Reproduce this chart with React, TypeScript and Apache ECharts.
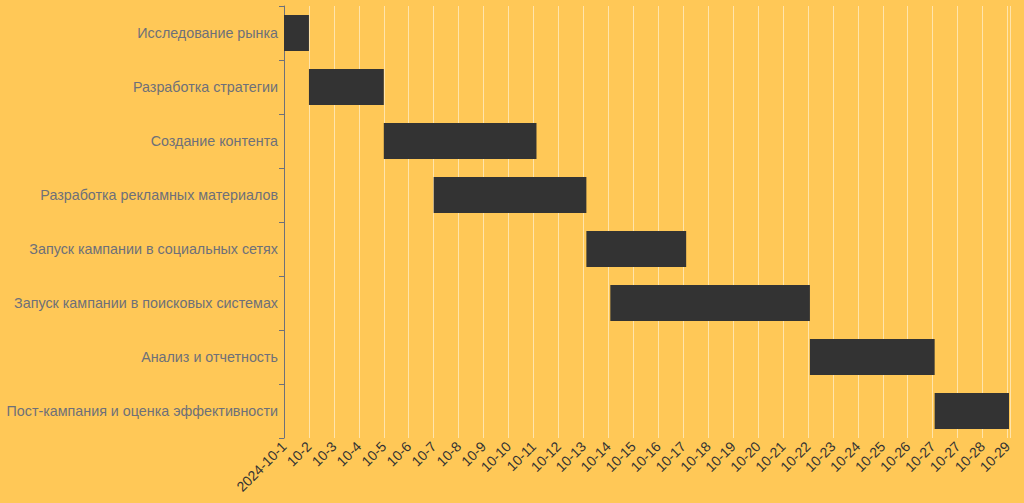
import React, { useEffect, useRef } from "react";
import * as echarts from "echarts";

const tasks = [
  "Исследование рынка",
  "Разработка стратегии",
  "Создание контента",
  "Разработка рекламных материалов",
  "Запуск кампании в социальных сетях",
  "Запуск кампании в поисковых системах",
  "Анализ и отчетность",
  "Пост-кампания и оценка эффективности",
];

// days since 2024-10-01
const startDays = [0, 1, 4, 6, 12.12, 13.08, 21.08, 26.08];
const endDays = [1, 4, 10.12, 12.12, 16.12, 21.08, 26.08, 29.06];

const tickLabels = [
  "2024-10-1", "10-2", "10-3", "10-4", "10-5", "10-6", "10-7", "10-8", "10-9", "10-10",
  "10-11", "10-12", "10-13", "10-14", "10-15", "10-16", "10-17", "10-18", "10-19", "10-20",
  "10-21", "10-22", "10-23", "10-24", "10-25", "10-26", "10-27", "10-27", "10-28", "10-29",
];

export default function App() {
  const ref = useRef<HTMLDivElement>(null);
  useEffect(() => {
    document.body.style.margin = "0";
    document.body.style.background = "#FFC857";
    const chart = echarts.init(ref.current!, null, { renderer: "svg" });
    const data = tasks.map((t, i) => [i, startDays[i], endDays[i]]);
    chart.setOption({
      animation: false,
      backgroundColor: "#FFC857",
      textStyle: { fontFamily: "'Liberation Sans', Arial, sans-serif" },
      grid: { left: 284, right: 14, top: 6, bottom: 65, containLabel: false },
      xAxis: {
        type: "value",
        min: 0,
        max: 29.1,
        interval: 1,
        axisLine: { show: false },
        axisTick: { show: false },
        splitLine: { show: true, lineStyle: { color: "rgba(255,255,255,0.5)", width: 1 } },
        axisLabel: {
          rotate: 45,
          margin: 6,
          fontSize: 14,
          color: "#333",
          showMaxLabel: false,
          formatter: (v: number) => (Number.isInteger(v) && tickLabels[v] !== undefined ? tickLabels[v] : ""),
        },
      },
      yAxis: {
        type: "category",
        inverse: true,
        data: tasks,
        axisLine: { show: true, lineStyle: { color: "#6E7079" } },
        axisTick: { show: true, lineStyle: { color: "#6E7079" } },
        splitLine: { show: false },
        axisLabel: { fontSize: 14.3, color: "#6E7079", margin: 6 },
      },
      series: [
        {
          type: "custom",
          encode: { x: [1, 2], y: 0 },
          data,
          renderItem: (params: any, api: any) => {
            const cat = api.value(0);
            const s = api.coord([api.value(1), cat]);
            const e = api.coord([api.value(2), cat]);
            const h = api.size([0, 1])[1] * 0.667;
            return {
              type: "rect",
              shape: { x: s[0], y: s[1] - h / 2, width: e[0] - s[0], height: h },
              style: { fill: "#333333" },
            };
          },
        },
      ],
    });
    return () => chart.dispose();
  }, []);
  return <div ref={ref} style={{ width: 1024, height: 503 }} />;
}
